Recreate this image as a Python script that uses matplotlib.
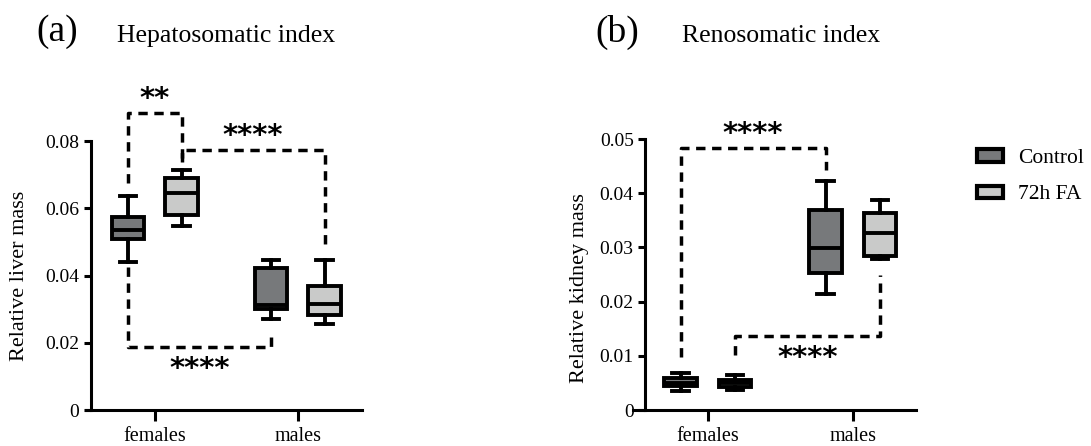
import matplotlib.pyplot as plt
from matplotlib.patches import Patch

groups = ["females", "males"]
treatments = ["Control", "72h FA"]
colors = ["#77797b", "#c9cac9"]

# box stats per group: (whislo, q1, med, q3, whishi)
liver_control = [(0.0440, 0.0508, 0.0535, 0.0574, 0.0636),
                 (0.0270, 0.0300, 0.0312, 0.0422, 0.0446)]
liver_fa = [(0.0547, 0.0580, 0.0645, 0.0690, 0.0713),
            (0.0256, 0.0282, 0.0315, 0.0369, 0.0446)]
kidney_control = [(0.0035, 0.0044, 0.0050, 0.0059, 0.0068),
                  (0.0214, 0.0252, 0.0299, 0.0369, 0.0422)]
kidney_fa = [(0.0036, 0.0043, 0.0049, 0.0055, 0.0065),
             (0.0278, 0.0284, 0.0326, 0.0363, 0.0387)]

# significance: (group, treatment) start, (group, treatment) end,
# start leg tip, bar level, end leg tip, label
liver_sig = [((0, 0), (0, 1), 0.0675, 0.0883, 0.0737, "**"),
             ((0, 1), (1, 1), 0.0737, 0.0773, 0.0480, "****"),
             ((0, 0), (1, 0), 0.0425, 0.0187, 0.0232, "****")]
kidney_sig = [((0, 0), (1, 0), 0.0098, 0.0484, 0.0443, "****"),
              ((0, 1), (1, 1), 0.0101, 0.0137, 0.0250, "****")]

SERIF = "Liberation Serif"
OFFSET = 0.188


def draw_panel(ax, control, fa, sig, ymax, yticks, ylabel, xlim, yspine):
    for k, data in enumerate([control, fa]):
        stats = []
        for lo, q1, med, q3, hi in data:
            stats.append(dict(whislo=lo, q1=q1, med=med, q3=q3, whishi=hi, fliers=[]))
        pos = [g + (k * 2 - 1) * OFFSET for g in range(len(groups))]
        ax.bxp(stats, positions=pos, widths=0.225, capwidths=0.115,
               showfliers=False, patch_artist=True,
               boxprops=dict(facecolor=colors[k], edgecolor="black", linewidth=2.8),
               medianprops=dict(color="black", linewidth=2.8),
               whiskerprops=dict(color="black", linewidth=2.8),
               capprops=dict(color="black", linewidth=2.8),
               manage_ticks=False)

    for (g1, t1), (g2, t2), a, level, b, label in sig:
        x1 = g1 + (t1 * 2 - 1) * OFFSET
        x2 = g2 + (t2 * 2 - 1) * OFFSET
        ax.plot([x1, x1, x2, x2], [a, level, level, b], color="black",
                lw=2.5, dashes=(2.7, 1.9), clip_on=False)
        above = level > max(a, b)
        ax.annotate(label, ((x1 + x2) / 2, level),
                    xytext=(0, 0 if above else -6), textcoords="offset points",
                    ha="center", va="bottom" if above else "top",
                    fontsize=21, fontweight="bold", family="DejaVu Sans",
                    annotation_clip=False)

    ax.set_xlim(*xlim)
    ax.set_ylim(0, ymax)
    ax.spines["top"].set_visible(False)
    ax.spines["right"].set_visible(False)
    ax.spines["left"].set_position(("data", yspine))
    ax.spines["left"].set_linewidth(2.2)
    ax.spines["bottom"].set_linewidth(2.2)
    ax.set_xticks(range(len(groups)))
    ax.set_xticklabels(groups, family=SERIF, fontsize=14.5)
    ax.set_yticks(yticks)
    ax.set_yticklabels(["0" if v == 0 else f"{v:.2f}" for v in yticks],
                       family=SERIF, fontsize=14)
    ax.tick_params(axis="y", width=2.2, length=5, pad=3)
    ax.tick_params(axis="x", width=2.2, length=8, pad=4)
    ax.set_ylabel(ylabel, family=SERIF, fontsize=16)


fig = plt.figure(figsize=(10.91, 4.46), dpi=100)
ax1 = fig.add_axes([0.0788, 0.0807, 0.253, 0.603])
ax2 = fig.add_axes([0.580, 0.0807, 0.2594, 0.6076])

draw_panel(ax1, liver_control, liver_fa, liver_sig, 0.08,
           [0, 0.02, 0.04, 0.06, 0.08], "Relative liver mass",
           (-0.48, 1.45), -0.448)
draw_panel(ax2, kidney_control, kidney_fa, kidney_sig, 0.05,
           [0, 0.01, 0.02, 0.03, 0.04, 0.05], "Relative kidney mass",
           (-0.517, 1.434), -0.434)
ax1.yaxis.set_label_coords(-0.207, 0.5)
ax2.yaxis.set_label_coords(-0.155, 0.45)

fig.text(0.052, 0.928, "(a)", family=SERIF, fontsize=27, ha="center", va="center")
fig.text(0.207, 0.92, "Hepatosomatic index", family=SERIF, fontsize=18.5,
         ha="center", va="center")
fig.text(0.566, 0.928, "(b)", family=SERIF, fontsize=27, ha="center", va="center")
fig.text(0.716, 0.92, "Renosomatic index", family=SERIF, fontsize=18.5,
         ha="center", va="center")

handles = [Patch(facecolor=c, edgecolor="black", linewidth=3) for c in colors]
fig.legend(handles, treatments, loc="upper left", bbox_to_anchor=(0.888, 0.685),
           frameon=False, prop=dict(family=SERIF, size=15.5),
           handlelength=1.2, handleheight=0.5, handletextpad=0.7,
           labelspacing=0.8, borderaxespad=0)

fig.savefig("out.png", dpi=100)
